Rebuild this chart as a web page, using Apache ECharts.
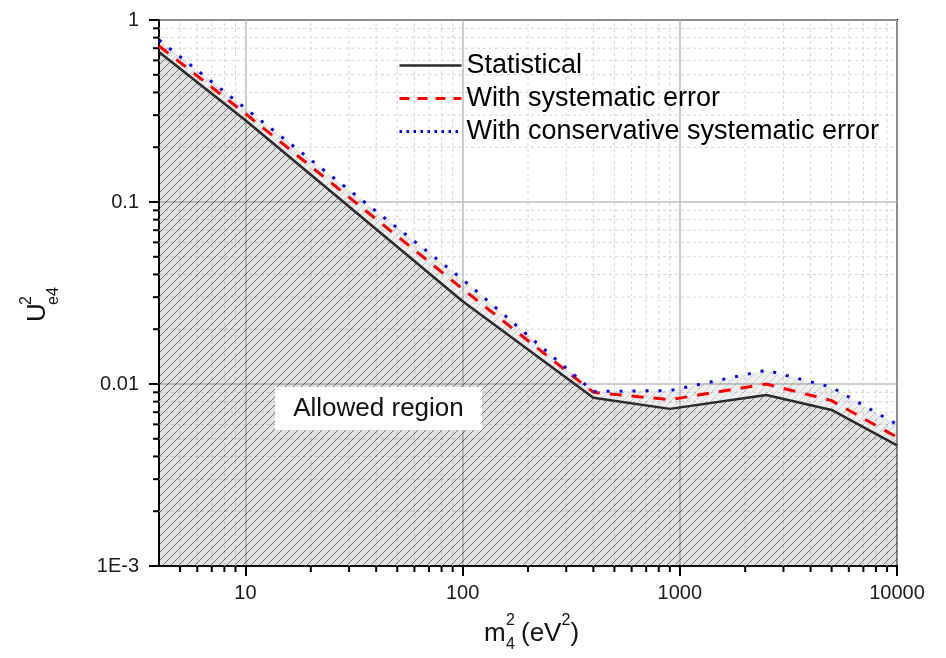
<!DOCTYPE html>
<html>
<head>
<meta charset="utf-8">
<script src="https://cdn.jsdelivr.net/npm/echarts@6.0.0/dist/echarts.min.js"></script>
<style>
html,body{margin:0;padding:0;background:#fff;}
#chart{width:946px;height:658px;}
</style>
</head>
<body>
<div id="chart"></div>
<script>
// ---- data ----
const massSq = [4, 10, 100, 400, 900, 2500, 5000, 10000];
const statistical = [0.667, 0.281, 0.0285, 0.0084, 0.0073, 0.0087, 0.0072, 0.0046];
const withSystematic = [0.72, 0.306, 0.0333, 0.0090, 0.0082, 0.0100, 0.0081, 0.0051];
const withConservative = [0.776, 0.327, 0.0376, 0.0091, 0.0092, 0.0119, 0.0096, 0.0060];

const seriesNames = ['Statistical', 'With systematic error', 'With conservative systematic error'];

const xTickValues = [10, 100, 1000, 10000];
const xTickLabels = ['10', '100', '1000', '10000'];
const yTickValues = [0.001, 0.01, 0.1, 1];
const yTickLabels = ['1E-3', '0.01', '0.1', '1'];

const xMinorValues = [5, 6, 7, 8, 9, 20, 30, 40, 50, 60, 70, 80, 90, 200, 300, 400, 500, 600, 700, 800, 900,
  2000, 3000, 4000, 5000, 6000, 7000, 8000, 9000];
const yMinorValues = [0.002, 0.003, 0.004, 0.005, 0.006, 0.007, 0.008, 0.009,
  0.02, 0.03, 0.04, 0.05, 0.06, 0.07, 0.08, 0.09,
  0.2, 0.3, 0.4, 0.5, 0.6, 0.7, 0.8, 0.9];

const X_MIN = 4, X_MAX = 10000, Y_MIN = 0.001, Y_MAX = 1;

// ---- helpers ----
function pairs(xs, ys) { return xs.map((x, i) => [x, ys[i]]); }
function lookupLabel(v, vals, labels) {
  for (let i = 0; i < vals.length; i++) {
    if (Math.abs(Math.log10(v) - Math.log10(vals[i])) < 1e-6) return labels[i];
  }
  return '';
}
function makeHatch(bg, line) {
  const c = document.createElement('canvas');
  c.width = 8; c.height = 8;
  const g = c.getContext('2d');
  g.fillStyle = bg; g.fillRect(0, 0, 8, 8);
  g.strokeStyle = line; g.lineWidth = 1;
  g.beginPath();
  g.moveTo(0, 8); g.lineTo(8, 0);
  g.moveTo(-1, 1); g.lineTo(1, -1);
  g.moveTo(7, 9); g.lineTo(9, 7);
  g.stroke();
  return c;
}
const lightHatch = makeHatch('rgba(0,0,0,0.06)', 'rgba(0,0,0,0.15)');
const darkHatch = makeHatch('rgba(0,0,0,0.06)', 'rgba(0,0,0,0.40)');

const FONT = '"Liberation Sans", Arial, sans-serif';

const chart = echarts.init(document.getElementById('chart'), null, {renderer: 'canvas'});

const option = {
  animation: false,
  backgroundColor: '#fff',
  grid: {left: 159, right: 49, top: 20, bottom: 92, show: true, borderColor: '#000', borderWidth: 2, backgroundColor: 'transparent'},
  xAxis: {
    type: 'log', logBase: 10, min: X_MIN, max: X_MAX,
    axisLine: {show: true, lineStyle: {color: '#000', width: 2}},
    axisTick: {show: true, length: 10, lineStyle: {color: '#000', width: 2}},
    axisLabel: {
      show: true, margin: 17, fontSize: 20, fontFamily: FONT, color: '#1a1a1a',
      showMinLabel: false,
      formatter: v => lookupLabel(v, xTickValues, xTickLabels)
    },
    splitLine: {show: true, lineStyle: {color: '#bdbdbd', width: 1.5}},
    minorTick: {show: false}, minorSplitLine: {show: false}
  },
  yAxis: {
    type: 'log', logBase: 10, min: Y_MIN, max: Y_MAX,
    axisLine: {show: true, lineStyle: {color: '#000', width: 2}},
    axisTick: {show: true, length: 10, lineStyle: {color: '#000', width: 2}},
    axisLabel: {
      show: true, margin: 20, fontSize: 20, fontFamily: FONT, color: '#1a1a1a',
      formatter: v => lookupLabel(v, yTickValues, yTickLabels)
    },
    splitLine: {show: true, lineStyle: {color: '#bdbdbd', width: 1.5}},
    minorTick: {show: false}, minorSplitLine: {show: false}
  },
  legend: {
    orient: 'vertical', left: 398, top: 52, padding: 0,
    itemWidth: 62, itemHeight: 14, itemGap: 6,
    textStyle: {fontSize: 27, fontFamily: FONT, color: '#000'},
    itemStyle: {opacity: 0},
    data: [
      {name: seriesNames[0], lineStyle: {width: 2.5}},
      {name: seriesNames[1], lineStyle: {type: [10, 8], width: 3}},
      {name: seriesNames[2], lineStyle: {type: [2.5, 4.5], width: 3}}
    ]
  },
  series: [
    {
      name: 'xMinor', type: 'custom', z: 1, silent: true, clip: false,
      data: xMinorValues.map(v => [v, Y_MIN]),
      renderItem: function (params, api) {
        const v = api.value(0);
        const p1 = api.coord([v, Y_MIN]);
        const p2 = api.coord([v, Y_MAX]);
        return {type: 'group', children: [
          {type: 'line', shape: {x1: p1[0], y1: p1[1], x2: p2[0], y2: p2[1]}, style: {stroke: '#d6d6d6', lineWidth: 1, lineDash: [3, 3]}},
          {type: 'line', shape: {x1: p1[0], y1: p1[1], x2: p1[0], y2: p1[1] + 6}, style: {stroke: '#000', lineWidth: 2}}
        ]};
      }
    },
    {
      name: 'yMinor', type: 'custom', z: 1, silent: true, clip: false,
      data: yMinorValues.map(v => [X_MIN, v]),
      renderItem: function (params, api) {
        const v = api.value(1);
        const p1 = api.coord([X_MIN, v]);
        const p2 = api.coord([X_MAX, v]);
        return {type: 'group', children: [
          {type: 'line', shape: {x1: p1[0], y1: p1[1], x2: p2[0], y2: p2[1]}, style: {stroke: '#d6d6d6', lineWidth: 1, lineDash: [3, 3]}},
          {type: 'line', shape: {x1: p1[0] - 6, y1: p1[1], x2: p1[0], y2: p1[1]}, style: {stroke: '#000', lineWidth: 2}}
        ]};
      }
    },
    {
      name: 'conservativeArea', type: 'line', z: 2, silent: true,
      data: pairs(massSq, withConservative), showSymbol: false, symbol: 'none',
      lineStyle: {width: 0, opacity: 0},
      areaStyle: {origin: 'start', color: {image: lightHatch, repeat: 'repeat'}, opacity: 1}
    },
    {
      name: 'statisticalArea', type: 'line', z: 3, silent: true,
      data: pairs(massSq, statistical), showSymbol: false, symbol: 'none',
      lineStyle: {width: 0, opacity: 0},
      areaStyle: {origin: 'start', color: {image: darkHatch, repeat: 'repeat'}, opacity: 1}
    },
    {
      name: seriesNames[0], type: 'line', z: 4,
      data: pairs(massSq, statistical), showSymbol: false, symbol: 'none',
      color: '#2a2a2a',
      lineStyle: {color: '#2a2a2a', width: 2.5}
    },
    {
      name: seriesNames[1], type: 'line', z: 5,
      data: pairs(massSq, withSystematic), showSymbol: false, symbol: 'none',
      color: '#ff0000',
      lineStyle: {color: '#ff0000', width: 3, type: [12, 10]}
    },
    {
      name: seriesNames[2], type: 'line', z: 6,
      data: pairs(massSq, withConservative), showSymbol: false, symbol: 'none',
      color: '#0000ff',
      lineStyle: {color: '#0000ff', width: 3, type: [3, 10]}
    }
  ],
  graphic: [
    {type: 'rect', z: 100, shape: {x: 275, y: 387, width: 207, height: 43}, style: {fill: '#fff'}},
    {type: 'text', z: 101, x: 378.5, y: 409,
      style: {text: 'Allowed region', font: '26px ' + FONT, fill: '#111', align: 'center', verticalAlign: 'middle'}},
    // x-axis title: m_4^2 (eV^2)
    {type: 'group', z: 100, x: 0, y: 0, children: [
      {type: 'text', x: 484, y: 634, style: {text: 'm', font: '26px ' + FONT, fill: '#111', align: 'left', verticalAlign: 'middle'}},
      {type: 'text', x: 506, y: 621, style: {text: '2', font: '16px ' + FONT, fill: '#111', align: 'left', verticalAlign: 'middle'}},
      {type: 'text', x: 506, y: 645, style: {text: '4', font: '16px ' + FONT, fill: '#111', align: 'left', verticalAlign: 'middle'}},
      {type: 'text', x: 521, y: 634, style: {text: '(eV', font: '26px ' + FONT, fill: '#111', align: 'left', verticalAlign: 'middle'}},
      {type: 'text', x: 561.5, y: 621, style: {text: '2', font: '16px ' + FONT, fill: '#111', align: 'left', verticalAlign: 'middle'}},
      {type: 'text', x: 570.5, y: 634, style: {text: ')', font: '26px ' + FONT, fill: '#111', align: 'left', verticalAlign: 'middle'}}
    ]},
    // y-axis title: U_e4^2 (rotated)
    {type: 'group', z: 100, x: 37.5, y: 322, rotation: Math.PI / 2, children: [
      {type: 'text', x: 0, y: 0, style: {text: 'U', font: '26px ' + FONT, fill: '#111', align: 'left', verticalAlign: 'middle'}},
      {type: 'text', x: 17, y: -11, style: {text: '2', font: '16px ' + FONT, fill: '#111', align: 'left', verticalAlign: 'middle'}},
      {type: 'text', x: 17, y: 16, style: {text: 'e4', font: '16px ' + FONT, fill: '#111', align: 'left', verticalAlign: 'middle'}}
    ]}
  ]
};

chart.setOption(option);
</script>
</body>
</html>
